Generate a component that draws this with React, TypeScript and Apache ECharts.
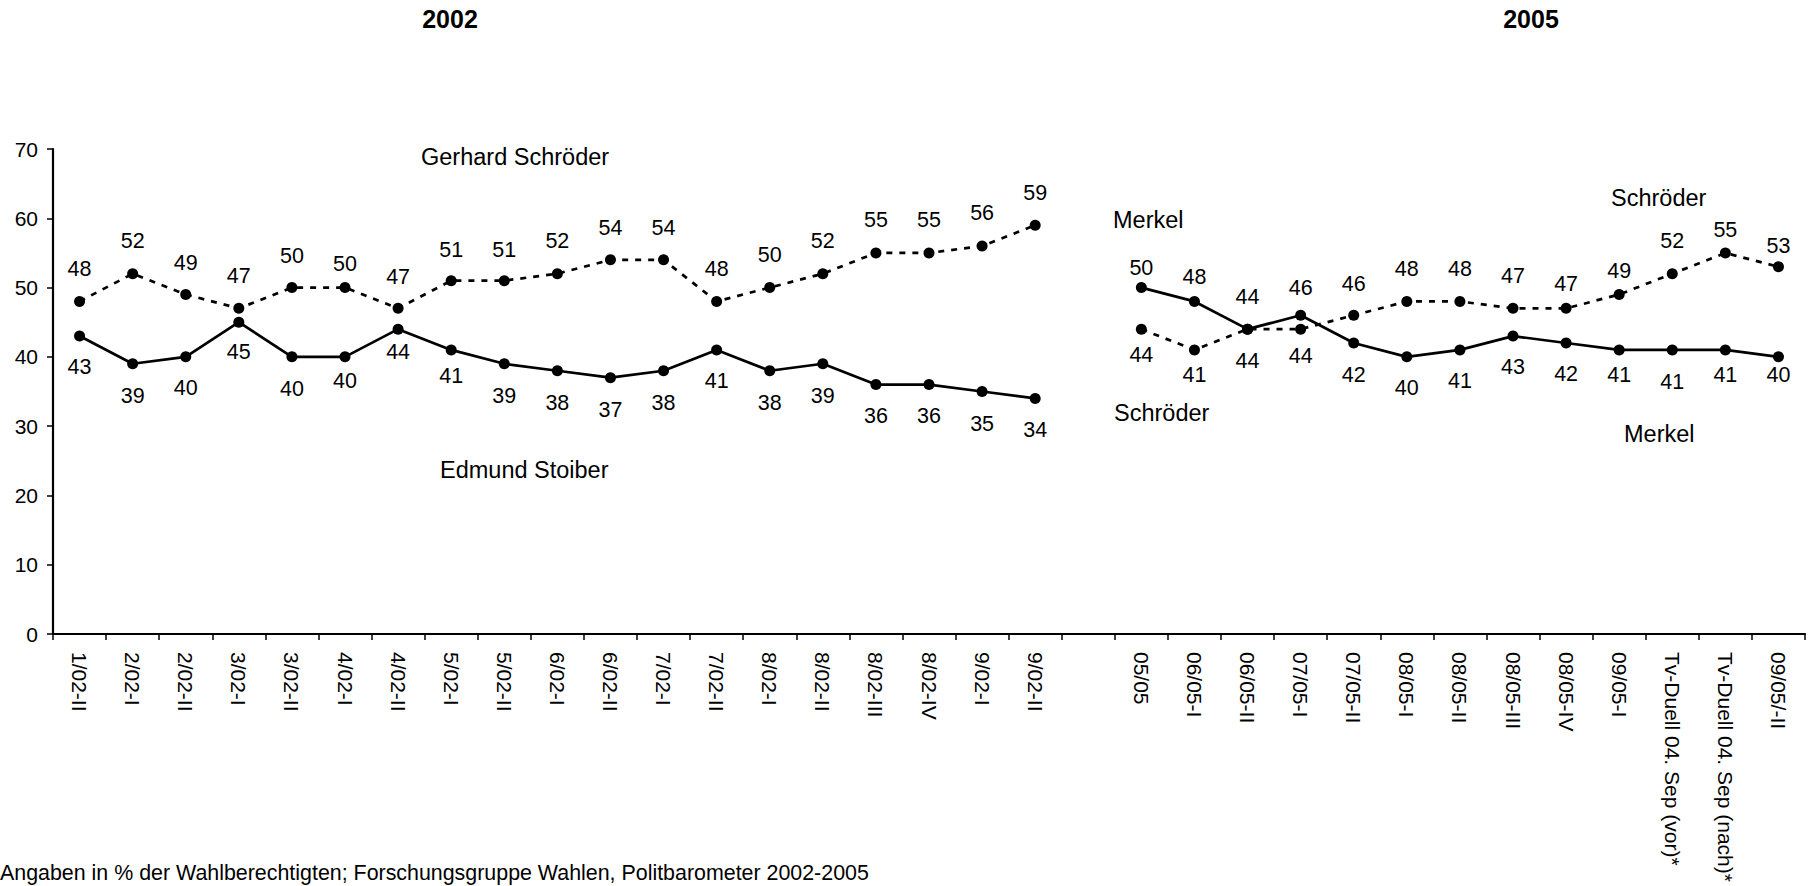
import React, { useEffect, useRef } from "react";
import * as echarts from "echarts";

const FONT = '"Liberation Sans", Arial, Helvetica, sans-serif';

// ---- Categories ----
const cats2002 = [
  "1/02-II", "2/02-I", "2/02-II", "3/02-I", "3/02-II", "4/02-I", "4/02-II",
  "5/02-I", "5/02-II", "6/02-I", "6/02-II", "7/02-I", "7/02-II", "8/02-I",
  "8/02-II", "8/02-III", "8/02-IV", "9/02-I", "9/02-II",
];
const cats2005 = [
  "05/05", "06/05-I", "06/05-II", "07/05-I", "07/05-II", "08/05-I", "08/05-II",
  "08/05-III", "08/05-IV", "09/05-I", "Tv-Duell 04. Sep (vor)*",
  "Tv-Duell 04. Sep (nach)*", "09/05/-II",
];
const categories = [...cats2002, "", ...cats2005];

// ---- Values ----
const schroeder2002 = [48, 52, 49, 47, 50, 50, 47, 51, 51, 52, 54, 54, 48, 50, 52, 55, 55, 56, 59];
const stoiber2002 = [43, 39, 40, 45, 40, 40, 44, 41, 39, 38, 37, 38, 41, 38, 39, 36, 36, 35, 34];
const merkel2005 = [50, 48, 44, 46, 42, 40, 41, 43, 42, 41, 41, 41, 40];
const schroeder2005 = [44, 41, 44, 44, 46, 48, 48, 47, 47, 49, 52, 55, 53];

// ---- Label placement (px from point to label centre; + above, - below) ----
const schroeder2002LabelOff = [32, 33, 32, 32, 32, 24, 31, 31, 31, 33, 32, 32, 32, 33, 33, 33, 33, 33, 32];
const stoiber2002LabelOff = [-31, -32, -31, -30, -32, -24, -23, -26, -32, -32, -32, -32, -31, -32, -32, -31, -31, -32, -32];
const merkel2005LabelOff = [20, 24, 32, 27, -32, -31, -31, -31, -31, -25, -32, -25, -18];
const schroeder2005LabelOff = [-26, -25, -32, -27, 31, 32, 32, 32, 24, 24, 33, 23, 21];

const GAP = 1;
const N = categories.length;

function buildData(vals: number[], offs: number[], start: number) {
  const out: any[] = [];
  for (let i = 0; i < N; i++) {
    const k = i - start;
    if (k >= 0 && k < vals.length) {
      out.push({ value: vals[k], label: { offset: [0, -offs[k]] } });
    } else {
      out.push(null);
    }
  }
  return out;
}

function lineSeries(name: string, data: any[], dashed: boolean) {
  return {
    name,
    type: "line",
    data,
    connectNulls: false,
    symbol: "circle",
    symbolSize: 11,
    itemStyle: { color: "#000" },
    lineStyle: { color: "#000", width: 2.7, type: dashed ? [6, 7] : "solid" },
    label: {
      show: true,
      position: "inside",
      formatter: "{c}",
      fontSize: 21.5,
      fontFamily: FONT,
      color: "#000",
    },
    emphasis: { disabled: true },
  };
}

function txt(text: string, x: number, y: number, size: number, align = "left", bold = false) {
  return {
    type: "text",
    x,
    y,
    silent: true,
    style: {
      text,
      fill: "#000",
      fontSize: size,
      fontFamily: FONT,
      fontWeight: bold ? "bold" : "normal",
      align,
      verticalAlign: "middle",
    },
  };
}

export default function App() {
  const ref = useRef<HTMLDivElement>(null);
  useEffect(() => {
    if (!ref.current) return;
    const chart = echarts.init(ref.current, null, { renderer: "svg" });
    const start2005 = cats2002.length + GAP;
    chart.setOption({
      animation: false,
      backgroundColor: "#fff",
      grid: { left: 53, right: 4, top: 149, bottom: 252, containLabel: false },
      xAxis: {
        type: "category",
        data: categories,
        boundaryGap: true,
        axisLine: { show: true, lineStyle: { color: "#000", width: 2.2 } },
        axisTick: { show: true, interval: 0, length: 6, lineStyle: { color: "#000", width: 1.5 } },
        axisLabel: {
          interval: 0,
          rotate: -90,
          margin: 18,
          fontSize: 21,
          fontFamily: FONT,
          color: "#000",
        },
        splitLine: { show: false },
      },
      yAxis: {
        type: "value",
        min: 0,
        max: 70,
        interval: 10,
        axisLine: { show: true, lineStyle: { color: "#000", width: 2.2 } },
        axisTick: { show: true, length: 6, lineStyle: { color: "#000", width: 1.5 } },
        axisLabel: { fontSize: 21, fontFamily: FONT, color: "#000", margin: 15 },
        splitLine: { show: false },
      },
      series: [
        lineSeries("Gerhard Schröder 2002", buildData(schroeder2002, schroeder2002LabelOff, 0), true),
        lineSeries("Edmund Stoiber 2002", buildData(stoiber2002, stoiber2002LabelOff, 0), false),
        lineSeries("Merkel 2005", buildData(merkel2005, merkel2005LabelOff, start2005), false),
        lineSeries("Schröder 2005", buildData(schroeder2005, schroeder2005LabelOff, start2005), true),
      ],
      graphic: [
        txt("2002", 450, 19, 25, "center", true),
        txt("2005", 1531, 19, 25, "center", true),
        txt("Gerhard Schröder", 421, 157, 23.5),
        txt("Edmund Stoiber", 440, 470, 23.5),
        txt("Merkel", 1113, 220, 23.5),
        txt("Schröder", 1114, 413, 23.5),
        txt("Schröder", 1611, 198, 23.5),
        txt("Merkel", 1624, 434, 23.5),
        txt("Angaben in % der Wahlberechtigten; Forschungsgruppe Wahlen, Politbarometer 2002-2005", 0, 873, 21.4),
      ],
    });
    return () => chart.dispose();
  }, []);
  return (
    <div
      ref={ref}
      style={{ position: "fixed", left: 0, top: 0, width: 1809, height: 886, background: "#fff" }}
    />
  );
}
